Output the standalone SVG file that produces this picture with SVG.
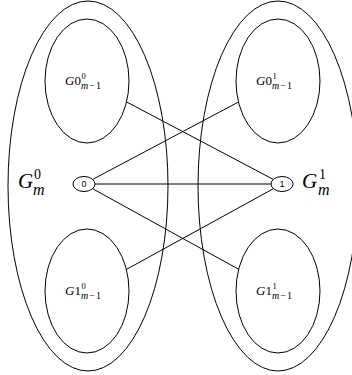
<svg xmlns="http://www.w3.org/2000/svg" width="352" height="375" viewBox="0 0 352 375">
<style>
.sh{fill:none;stroke:#000;stroke-width:1}
.nd{fill:#fff;stroke:#000;stroke-width:1}
.ln{stroke:#000;stroke-width:1;fill:none}
.mt{font-family:"Liberation Serif","DejaVu Serif",serif;fill:#000}
.it{font-style:italic}
.nl{font-family:"Liberation Sans",Arial,sans-serif;font-size:9px;fill:#000}
</style>
<rect width="352" height="375" fill="#fff"/>
<g id="Gm0">
<ellipse class="sh" cx="88" cy="186" rx="80" ry="185"/>
<text class="mt"><tspan class="it" x="18" y="188" font-size="21">G</tspan><tspan x="34" y="178.5" font-size="14">0</tspan><tspan class="it" x="33" y="195" font-size="16">m</tspan></text>
</g>
<g id="Gm1">
<ellipse class="sh" cx="278" cy="186" rx="80" ry="185"/>
<text class="mt"><tspan class="it" x="302" y="188" font-size="21">G</tspan><tspan x="319" y="178.5" font-size="14">1</tspan><tspan class="it" x="318" y="195" font-size="16">m</tspan></text>
</g>
<g id="connectors">
<line class="ln" x1="95" y1="184" x2="271" y2="184"/>
<line class="ln" x1="92.7" y1="179.4" x2="238.5" y2="102"/>
<line class="ln" x1="92.6" y1="188.7" x2="238.7" y2="269.3"/>
<line class="ln" x1="273.3" y1="179.4" x2="126.5" y2="101.9"/>
<line class="ln" x1="273.4" y1="188.7" x2="126.4" y2="269.4"/>
</g>
<g id="G0_0">
<ellipse class="sh" cx="87" cy="81" rx="42" ry="62"/>
<text class="mt"><tspan class="it" x="65" y="85" font-size="13">G</tspan><tspan font-size="13">0</tspan><tspan x="81.5" y="79" font-size="8.5">0</tspan><tspan x="81" y="89" font-size="10"><tspan class="it">m</tspan><tspan dx="1">−</tspan><tspan dx="1">1</tspan></tspan></text>
</g>
<g id="G0_1">
<ellipse class="sh" cx="278" cy="81" rx="42" ry="62"/>
<text class="mt"><tspan class="it" x="256" y="85" font-size="13">G</tspan><tspan font-size="13">0</tspan><tspan x="272.5" y="79" font-size="8.5">1</tspan><tspan x="272" y="89" font-size="10"><tspan class="it">m</tspan><tspan dx="1">−</tspan><tspan dx="1">1</tspan></tspan></text>
</g>
<g id="G1_0">
<ellipse class="sh" cx="87" cy="291" rx="42" ry="62"/>
<text class="mt"><tspan class="it" x="65" y="295" font-size="13">G</tspan><tspan font-size="13">1</tspan><tspan x="81.5" y="289" font-size="8.5">0</tspan><tspan x="81" y="299" font-size="10"><tspan class="it">m</tspan><tspan dx="1">−</tspan><tspan dx="1">1</tspan></tspan></text>
</g>
<g id="G1_1">
<ellipse class="sh" cx="278" cy="291" rx="42" ry="62"/>
<text class="mt"><tspan class="it" x="256" y="295" font-size="13">G</tspan><tspan font-size="13">1</tspan><tspan x="272.5" y="289" font-size="8.5">1</tspan><tspan x="272" y="299" font-size="10"><tspan class="it">m</tspan><tspan dx="1">−</tspan><tspan dx="1">1</tspan></tspan></text>
</g>
<g id="n0">
<ellipse class="nd" cx="84" cy="184" rx="11" ry="7.5"/>
<text class="nl" x="84" y="187.2" text-anchor="middle">0</text>
</g>
<g id="n1">
<ellipse class="nd" cx="282" cy="184" rx="11" ry="7.5"/>
<text class="nl" x="282" y="187.2" text-anchor="middle">1</text>
</g>
</svg>
